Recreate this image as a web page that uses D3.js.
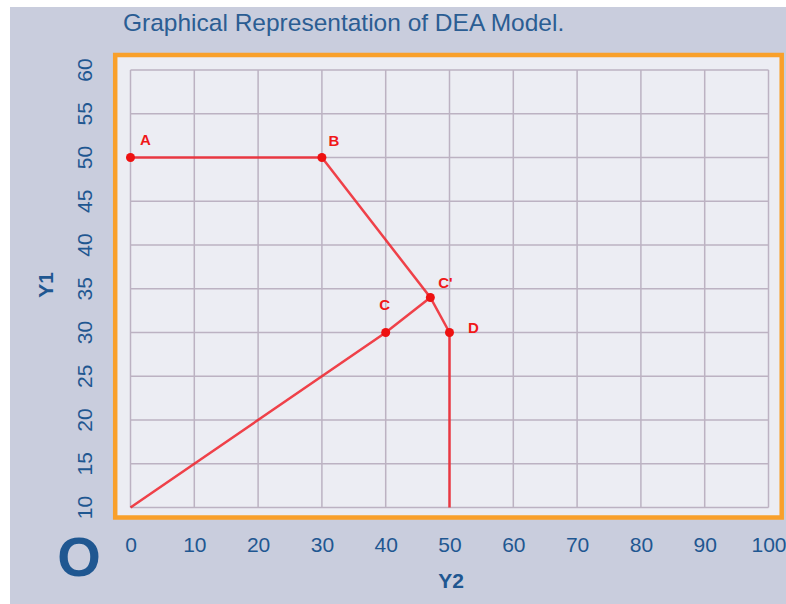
<!DOCTYPE html>
<html>
<head>
<meta charset="utf-8">
<script src="https://cdn.jsdelivr.net/npm/d3@7"></script>
<style>
  html, body { margin: 0; padding: 0; background: #ffffff; }
  svg { display: block; }
  text { font-family: "Liberation Sans", Arial, Helvetica, sans-serif; }
</style>
</head>
<body>
<div id="chart"></div>
<script>
// chart values
const xTicks = [0, 10, 20, 30, 40, 50, 60, 70, 80, 90, 100];
const yTicks = [10, 15, 20, 25, 30, 35, 40, 45, 50, 55, 60];
const pointNames = ['A', 'B', "C'", 'D', 'C'];
const pointY2 = [0, 30, 47, 50, 40];
const pointY1 = [50, 50, 34, 30, 30];
// frontier: A -> B -> C' -> D -> down to Y1 = 10
const frontierY2 = [0, 30, 47, 50, 50];
const frontierY1 = [50, 50, 34, 30, 10];
// ray from origin through C to C'
const rayY2 = [0, 40, 47];
const rayY1 = [10, 30, 34];

const width = 786, height = 604;
const blue = '#1f5791';
const red = '#f0222a';

const svg = d3.select('#chart').append('svg')
  .attr('width', width)
  .attr('height', height);

svg.append('rect')
  .attr('x', 10).attr('y', 7)
  .attr('width', width - 10).attr('height', height - 7)
  .attr('fill', '#c9cddd');

// orange frame
svg.append('rect')
  .attr('x', 115.2).attr('y', 55)
  .attr('width', 666.5).attr('height', 462.5)
  .attr('fill', '#ecedf3')
  .attr('stroke', '#f9a02a')
  .attr('stroke-width', 4.5);

const x = d3.scaleLinear().domain([0, 100]).range([130.5, 768.5]);
const y = d3.scaleLinear().domain([10, 60]).range([507.5, 70]);

// grid
const grid = svg.append('g').attr('stroke', '#bcb2c2').attr('stroke-width', 1.5);
grid.selectAll('.v').data(xTicks).enter().append('line')
  .attr('x1', d => x(d)).attr('x2', d => x(d))
  .attr('y1', y(60)).attr('y2', y(10));
grid.selectAll('.h').data(yTicks).enter().append('line')
  .attr('y1', d => y(d)).attr('y2', d => y(d))
  .attr('x1', x(0)).attr('x2', x(100));

// x axis labels
const xAxis = svg.append('g')
  .attr('transform', `translate(0,${y(10)})`)
  .call(d3.axisBottom(x).tickValues(xTicks).tickSize(0).tickPadding(30));
xAxis.select('.domain').remove();
xAxis.selectAll('text')
  .attr('fill', blue)
  .style('font-size', '21px')
  .style('font-family', '"Liberation Sans", Arial, sans-serif');

// y axis labels (rotated)
svg.append('g').selectAll('text').data(yTicks).enter().append('text')
  .attr('transform', d => `translate(84,${y(d)}) rotate(-90)`)
  .attr('text-anchor', 'middle')
  .attr('dy', '0.36em')
  .attr('fill', blue)
  .style('font-size', '21px')
  .text(d => d);

// axis titles
svg.append('text')
  .attr('transform', 'translate(45,285) rotate(-90)')
  .attr('text-anchor', 'middle')
  .attr('dy', '0.36em')
  .attr('fill', blue)
  .style('font-size', '21px')
  .style('font-weight', 'bold')
  .text('Y1');

svg.append('text')
  .attr('x', 451).attr('y', 588)
  .attr('text-anchor', 'middle')
  .attr('fill', blue)
  .style('font-size', '21px')
  .style('font-weight', 'bold')
  .text('Y2');

svg.append('text')
  .attr('x', 79).attr('y', 576)
  .attr('text-anchor', 'middle')
  .attr('fill', blue)
  .style('font-size', '56px')
  .style('font-weight', 'bold')
  .text('O');

// title
svg.append('text')
  .attr('x', 123).attr('y', 31)
  .attr('fill', '#2b5d93')
  .style('font-size', '24.5px')
  .text('Graphical Representation of DEA Model.');

// lines
const line = d3.line().x(d => x(d[0])).y(d => y(d[1]));
svg.append('path')
  .datum(frontierY2.map((v, i) => [v, frontierY1[i]]))
  .attr('d', line)
  .attr('fill', 'none')
  .attr('stroke', red)
  .attr('stroke-opacity', 0.85)
  .attr('stroke-width', 2.5);
svg.append('path')
  .datum(rayY2.map((v, i) => [v, rayY1[i]]))
  .attr('d', line)
  .attr('fill', 'none')
  .attr('stroke', red)
  .attr('stroke-opacity', 0.85)
  .attr('stroke-width', 2.5);

// points
const points = pointNames.map((n, i) => ({ name: n, y2: pointY2[i], y1: pointY1[i] }));
svg.append('g').selectAll('circle').data(points).enter().append('circle')
  .attr('cx', d => x(d.y2))
  .attr('cy', d => y(d.y1))
  .attr('r', 4.5)
  .attr('fill', '#ee1111');

// label offsets from each point
const labelOffset = { 'A': [15, -18], 'B': [12, -17], "C'": [15, -15], 'D': [24, -5], 'C': [-1, -28] };
svg.append('g').selectAll('text').data(points).enter().append('text')
  .attr('x', d => x(d.y2) + labelOffset[d.name][0])
  .attr('y', d => y(d.y1) + labelOffset[d.name][1])
  .attr('dy', '0.36em')
  .attr('text-anchor', 'middle')
  .attr('fill', '#f01818')
  .style('font-size', '15px')
  .style('font-weight', 'bold')
  .text(d => d.name);
</script>
</body>
</html>
